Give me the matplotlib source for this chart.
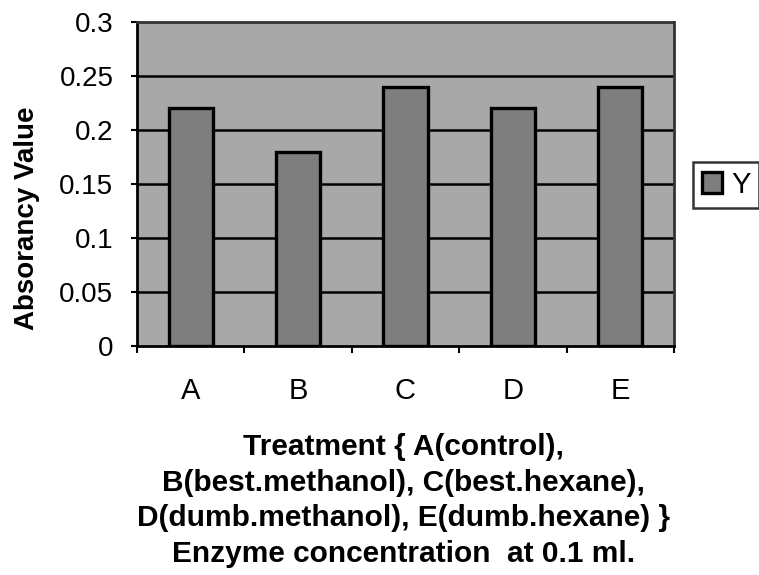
import numpy as np
import matplotlib
matplotlib.use("Agg")
import matplotlib.pyplot as plt

# data
treatments = ["A", "B", "C", "D", "E"]
absorbance = [0.22, 0.18, 0.24, 0.22, 0.24]
yticks = [0, 0.05, 0.1, 0.15, 0.2, 0.25, 0.3]
ytick_labels = ["0", "0.05", "0.1", "0.15", "0.2", "0.25", "0.3"]

plt.rcParams["font.family"] = ["Liberation Sans", "DejaVu Sans"]

fig = plt.figure(figsize=(7.59, 5.75), dpi=100)
ax = fig.add_axes([0.1805, 0.398, 0.7075, 0.5637])
ax.set_facecolor("#a8a8a8")

x = np.arange(len(treatments))
ax.bar(x, absorbance, width=0.41, color="#7e7e7e", edgecolor="black",
       linewidth=2.4, label="Y", zorder=3)

ax.set_xlim(-0.5, len(treatments) - 0.5)
ax.set_ylim(0, 0.3)
ax.set_yticks(yticks)
ax.set_yticklabels(ytick_labels, fontsize=20)
for y in yticks[1:-1]:
    ax.axhline(y, color="black", linewidth=1.8, zorder=2)

# categories labelled at centre, ticks between categories
ax.set_xticks(x)
ax.set_xticklabels(treatments, fontsize=21)
ax.tick_params(axis="x", length=0, pad=22)
ax.set_xticks(np.arange(-0.5, len(treatments)), minor=True)
ax.tick_params(axis="x", which="minor", length=5, width=1.5, direction="out")
ax.tick_params(axis="y", length=4, width=1.5, direction="out", pad=13)

for s in ["left", "bottom"]:
    ax.spines[s].set_linewidth(2)
for s in ["top", "right"]:
    ax.spines[s].set_color("#333333")
    ax.spines[s].set_linewidth(2)
    ax.spines[s].set_linestyle((0, (1, 1)))

ax.set_ylabel("Absorancy Value", fontsize=20, fontweight="bold")
ax.yaxis.set_label_coords(-0.181, 0.394)
ax.set_xlabel("Treatment { A(control),\nB(best.methanol), C(best.hexane),\n"
              "D(dumb.methanol), E(dumb.hexane) }\nEnzyme concentration  at 0.1 ml.",
              fontsize=21.5, fontweight="bold", linespacing=1.35)
ax.xaxis.set_label_coords(0.497, -0.268)

leg = fig.legend(loc="upper left", bbox_to_anchor=(0.913, 0.718), fontsize=21,
                 frameon=True, fancybox=False, edgecolor="black",
                 handlelength=0.7, handleheight=0.7, handletextpad=0.3,
                 borderpad=0.3, borderaxespad=0)
leg.get_frame().set_linewidth(1.8)

fig.savefig("out.png", dpi=100)
